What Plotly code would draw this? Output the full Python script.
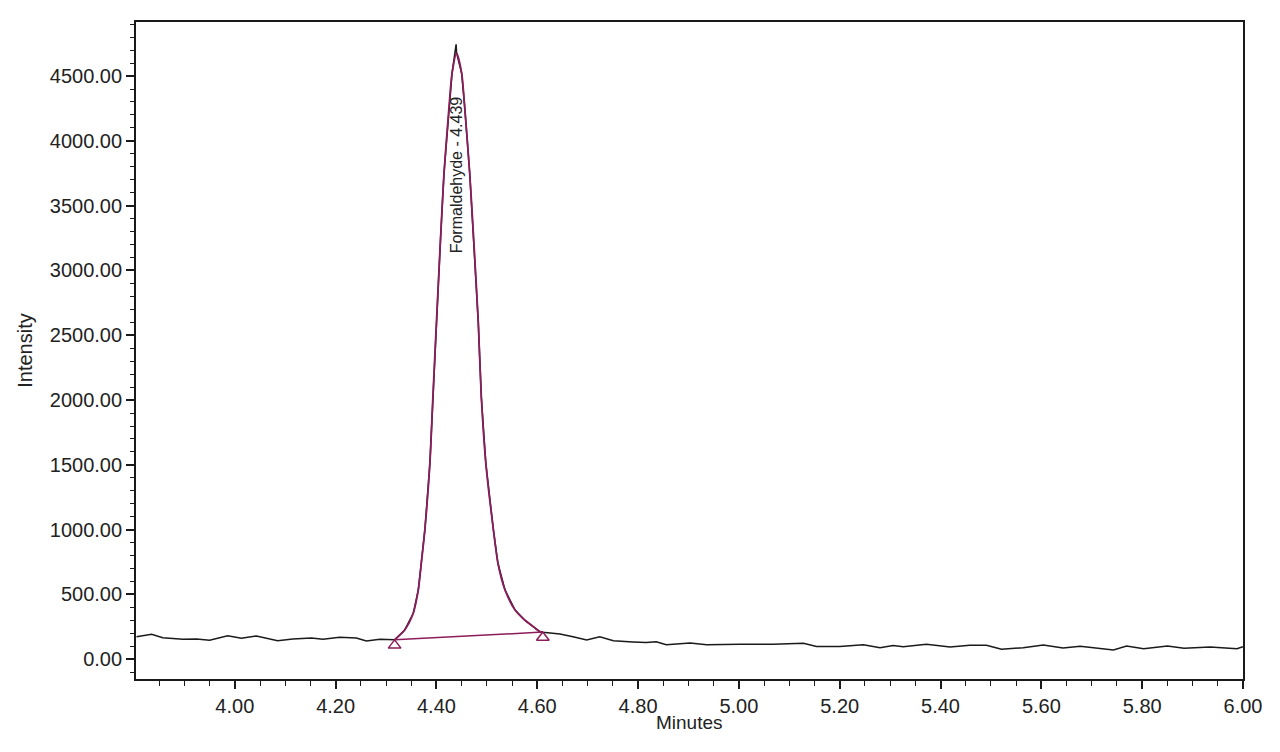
import plotly.graph_objects as go

# ---- data ----
pre_time = [3.805, 3.835, 3.857, 3.897, 3.924, 3.950, 3.986, 4.013, 4.043, 4.085,
            4.115, 4.152, 4.175, 4.208, 4.241, 4.261, 4.288, 4.314]
pre_signal = [174, 193, 167, 154, 157, 147, 182, 162, 180, 144,
              157, 164, 154, 170, 164, 141, 154, 152]

peak_time = [4.317, 4.337, 4.354, 4.364, 4.370, 4.377, 4.387, 4.393, 4.400, 4.408,
             4.415, 4.425, 4.431, 4.440, 4.450, 4.456, 4.466, 4.474, 4.483, 4.489,
             4.498, 4.513, 4.522, 4.536, 4.556, 4.575, 4.592, 4.605, 4.611]
peak_signal = [150, 226, 355, 535, 741, 998, 1512, 2026, 2600, 3235,
               3750, 4264, 4522, 4676, 4522, 4264, 3750, 3235, 2600, 2026,
               1512, 998, 741, 535, 380, 303, 252, 213, 208]

apex_time = 4.439
apex_raw = 4745

post_time = [4.645, 4.671, 4.698, 4.724, 4.751, 4.790, 4.816, 4.836, 4.856, 4.903,
             4.936, 5.002, 5.068, 5.128, 5.154, 5.200, 5.247, 5.280, 5.306, 5.326,
             5.372, 5.419, 5.458, 5.491, 5.521, 5.564, 5.604, 5.643, 5.677, 5.743,
             5.769, 5.803, 5.850, 5.883, 5.935, 5.988, 6.000]
post_signal = [195, 174, 149, 174, 144, 134, 129, 136, 113, 126,
               113, 116, 116, 123, 98, 98, 113, 90, 106, 97,
               116, 95, 108, 108, 77, 90, 110, 87, 100, 72,
               103, 82, 103, 85, 95, 82, 97]

baseline_time = [4.317, 4.611]
baseline_signal = [150, 210]

peak_name = "Formaldehyde"
peak_rt = 4.439

x_range = [3.804, 6.0]
y_range = [-152, 4917]
x_ticks = [4.00, 4.20, 4.40, 4.60, 4.80, 5.00, 5.20, 5.40, 5.60, 5.80, 6.00]
y_ticks = [0, 500, 1000, 1500, 2000, 2500, 3000, 3500, 4000, 4500]

# ---- figure ----
PEAK_COLOR = "#8B1D5B"
FONT = "Liberation Sans, Arial, sans-serif"
TEXT = "#222222"

# black raw trace: everything, with the raw apex inserted
i_apex = next(i for i, t in enumerate(peak_time) if t > apex_time)
raw_time = pre_time + peak_time[:i_apex] + [apex_time] + peak_time[i_apex:] + post_time
raw_signal = pre_signal + peak_signal[:i_apex] + [apex_raw] + peak_signal[i_apex:] + post_signal

FIG_W, FIG_H = 1272, 744   # page body adds an 8px margin
M_L, M_R, M_T, M_B = 128, 37, 14, 73
plot_h = FIG_H - M_T - M_B
units_per_px = (y_range[1] - y_range[0]) / plot_h
marker_offset = 5.5 * units_per_px

fig = go.Figure()
fig.add_trace(go.Scatter(x=raw_time, y=raw_signal, mode="lines",
                         line=dict(color="#1a1a1a", width=1.5), hoverinfo="skip"))
fig.add_trace(go.Scatter(x=peak_time, y=peak_signal, mode="lines",
                         line=dict(color=PEAK_COLOR, width=1.8, shape="spline", smoothing=0.7),
                         hoverinfo="skip"))
fig.add_trace(go.Scatter(x=baseline_time, y=baseline_signal, mode="lines",
                         line=dict(color=PEAK_COLOR, width=1.5), hoverinfo="skip"))
fig.add_trace(go.Scatter(x=baseline_time, y=[v - marker_offset for v in baseline_signal],
                         mode="markers",
                         marker=dict(symbol="triangle-up-open", size=11,
                                     color=PEAK_COLOR, line=dict(width=1.5, color=PEAK_COLOR)),
                         hoverinfo="skip"))

fig.add_annotation(x=peak_rt + 0.0025, y=3737, text=f"{peak_name} - {peak_rt:.3f}",
                   textangle=-90, showarrow=False,
                   font=dict(family=FONT, size=16, color=TEXT))

# x-axis title placed just under the tick labels
fig.add_annotation(x=0.5, y=0, xref="paper", yref="paper", xanchor="center",
                   yanchor="top", yshift=-31, text="Minutes", showarrow=False,
                   font=dict(family=FONT, size=19, color=TEXT))

axis_common = dict(showgrid=False, zeroline=False, showline=True, linecolor="#1a1a1a",
                   linewidth=1.8, mirror=True, ticks="outside", tickcolor="#1a1a1a",
                   tickwidth=1.5, ticklen=8, tickformat=".2f",
                   tickfont=dict(family=FONT, size=20, color=TEXT))

fig.update_xaxes(range=x_range, tickvals=x_ticks, **axis_common,
                 minor=dict(dtick=0.05, tick0=4.0, ticks="outside", ticklen=5,
                            tickwidth=1.2, tickcolor="#1a1a1a"))
fig.update_yaxes(range=y_range, tickvals=y_ticks, **axis_common,
                 minor=dict(dtick=100, tick0=0, ticks="outside", ticklen=4,
                            tickwidth=1.2, tickcolor="#1a1a1a"),
                 title=dict(text="Intensity", standoff=12,
                            font=dict(family=FONT, size=20, color=TEXT)))

fig.update_layout(width=FIG_W, height=FIG_H, showlegend=False,
                  margin=dict(l=M_L, r=M_R, t=M_T, b=M_B, autoexpand=False),
                  paper_bgcolor="white", plot_bgcolor="white")

fig.write_html("out.html")
